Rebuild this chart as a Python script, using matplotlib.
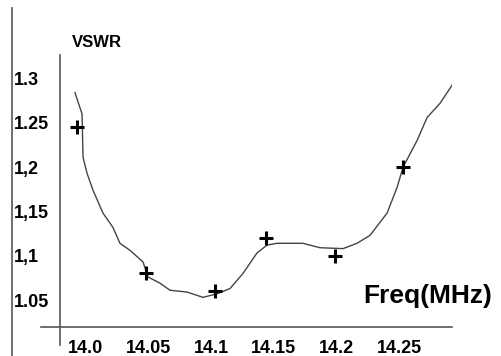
import matplotlib.pyplot as plt
from matplotlib.lines import Line2D

plt.rcParams['font.family'] = ['Liberation Sans', 'DejaVu Sans']
plt.rcParams['font.weight'] = 'bold'

# curva medida de VSWR
freq_curva = [13.9917, 13.9973, 13.9981, 14.0013, 14.0060, 14.0140, 14.0219,
              14.0275, 14.0355, 14.0458, 14.0498, 14.0593, 14.0673, 14.0808,
              14.0936, 14.1047, 14.1151, 14.1254, 14.1365, 14.1445, 14.1525,
              14.1731, 14.1867, 14.2050, 14.2161, 14.2265, 14.2400, 14.2480,
              14.2528, 14.2639, 14.2719, 14.2822, 14.2925]
vswr_curva = [1.284, 1.260, 1.211, 1.193, 1.174, 1.148, 1.132, 1.114, 1.106,
              1.093, 1.076, 1.069, 1.061, 1.059, 1.053, 1.057, 1.063, 1.080,
              1.103, 1.112, 1.114, 1.114, 1.109, 1.108, 1.114, 1.123, 1.148,
              1.177, 1.200, 1.230, 1.256, 1.272, 1.294]

# puntos marcados con +
freq_puntos = [13.993, 14.048, 14.103, 14.144, 14.199, 14.253]
vswr_puntos = [1.245, 1.08, 1.06, 1.12, 1.10, 1.20]

x_ticks = [14.0, 14.05, 14.1, 14.15, 14.2, 14.25]
x_labels = ['14.0', '14.05', '14.1', '14.15', '14.2', '14.25']
y_ticks = [1.05, 1.1, 1.15, 1.2, 1.25, 1.3]
y_labels = ['1.05', '1,1', '1,15', '1,2', '1.25', '1.3']

fig = plt.figure(figsize=(5.01, 3.56), dpi=100)
ax = fig.add_axes([0.11976, 0.08146, 0.78244, 0.76404])

ax.plot(freq_curva, vswr_curva, color='#444444', lw=1)
ax.plot(freq_puntos, vswr_puntos, '+', color='black', ms=10, mew=2.2)

ax.set_xlim(13.97977, 14.29172)
ax.set_ylim(1.01953, 1.32652)

for s in ax.spines.values():
    s.set_visible(False)

ax.set_xticks(x_ticks)
ax.set_xticklabels(x_labels, fontsize=13, fontweight='bold')
ax.set_yticks(y_ticks)
ax.set_yticklabels(y_labels, fontsize=13, fontweight='bold', ha='left')
ax.tick_params(axis='x', length=0, pad=9)
ax.tick_params(axis='y', length=0, pad=33)

# lineas del marco
col = '#555555'
fig.add_artist(Line2D([0.02395, 0.02395], [0.0, 0.97753], color=col, lw=1.2))
fig.add_artist(Line2D([0.11976, 0.11976], [0.0309, 0.84551], color=col, lw=1.2))
fig.add_artist(Line2D([0.08184, 0.90220], [0.08146, 0.08146], color=col, lw=1.2))

fig.text(0.1437, 0.882, 'VSWR', fontsize=12, fontweight='bold', va='center', ha='left')
fig.text(0.854, 0.1685, 'Freq(MHz)', fontsize=19, fontweight='bold', va='center', ha='center')

fig.savefig('out.png', dpi=100)
plt.close()
